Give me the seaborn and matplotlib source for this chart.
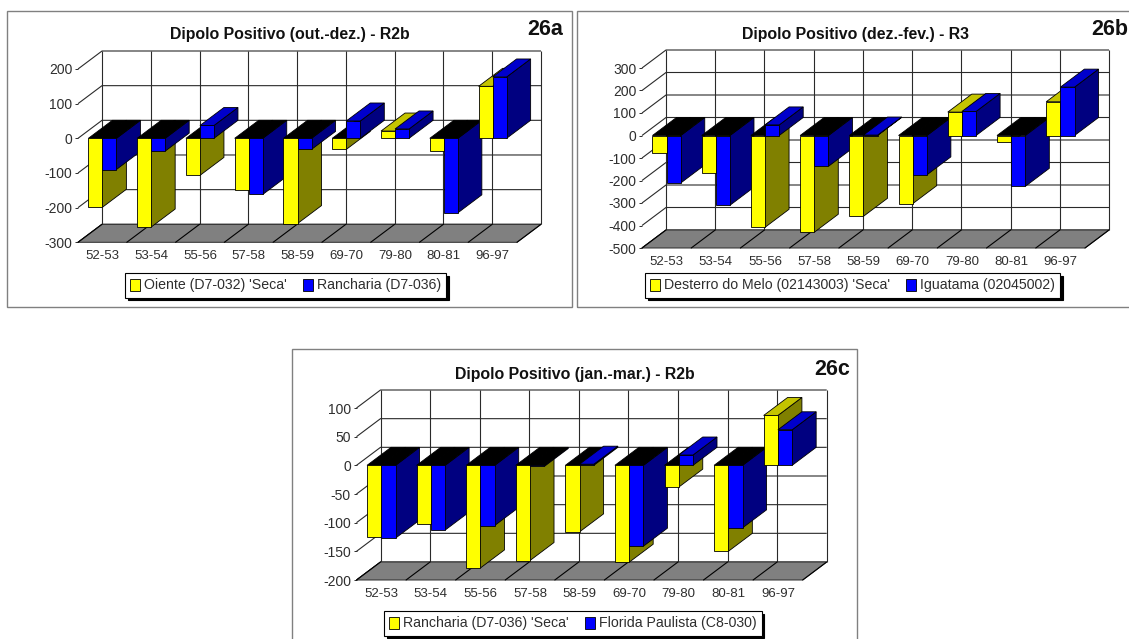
import matplotlib
matplotlib.use("Agg")
import matplotlib.pyplot as plt
from matplotlib.patches import Polygon, Rectangle
import pandas as pd
import seaborn as sns

# Rainfall anomalies per wet season, one pair of stations in each panel
periods = ["52-53", "53-54", "55-56", "57-58", "58-59", "69-70", "79-80", "80-81", "96-97"]

oiente = [-199, -256, -107, -148, -246, -32, 21, -37, 150]
rancharia_a = [-90, -37, 37, -162, -32, 50, 27, -215, 177]

desterro = [-78, -167, -408, -430, -359, -303, 104, -30, 150]
iguatama = [-211, -310, 47, -137, 2, -175, 107, -226, 215]

rancharia_c = [-125, -103, -179, -166, -116, -169, -38, -150, 87]
florida = [-127, -113, -105, -2, 2, -141, 18, -109, 62]

W, H = 1129, 639
DEPTH_X, DEPTH_Y = 24, 18

FRONT = {"#FFFF00": "#C4C400", "#0000FF": "#0000CC"}
SIDE = {"#FFFF00": "#808000", "#0000FF": "#000080"}
COLORS = ["#FFFF00", "#0000FF"]
LINE = "#2a2a2a"
TEXT = "#2e2e2e"

sns.set_theme(style="white")
plt.rcParams["font.family"] = ["Liberation Sans", "DejaVu Sans"]
plt.rcParams["axes.unicode_minus"] = False

fig = plt.figure(figsize=(W / 100, H / 100), dpi=100, facecolor="white")


def fx(px):
    return px / W


def fy(py):
    return 1 - py / H


def panel(frame, plane, ylim, yticks, title, title_xy, tag, tag_xy, legend_at, names, first, second):
    fig.add_artist(Rectangle((fx(frame[0]), fy(frame[3])), (frame[2] - frame[0]) / W,
                             (frame[3] - frame[1]) / H, transform=fig.transFigure,
                             fill=False, edgecolor="#808080", linewidth=1.0))
    left, top, right, bottom = plane
    ax = fig.add_axes([fx(left), fy(bottom), (right - left) / W, (bottom - top) / H])

    table = pd.DataFrame({
        "period": periods * 2,
        "value": list(first) + list(second),
        "station": [names[0]] * len(periods) + [names[1]] * len(periods),
    })
    sns.barplot(data=table, x="period", y="value", hue="station", hue_order=names,
                palette=COLORS, saturation=1, width=0.575, ax=ax,
                edgecolor="black", linewidth=0.6, errorbar=None)

    x0, x1 = -0.5, len(periods) - 0.5
    ax.set_xlim(x0, x1)
    ax.set_ylim(*ylim)
    ax.set_yticks(yticks)
    ax.set_xlabel("")
    ax.set_ylabel("")
    ax.patch.set_visible(False)
    for spine in ax.spines.values():
        spine.set_visible(False)
    ax.tick_params(axis="x", length=0, pad=5.5, labelsize=9.5, labelcolor=TEXT)
    ax.tick_params(axis="y", length=2.5, width=0.7, color=LINE, left=True, pad=1.5,
                   labelsize=10, labelcolor=TEXT)

    dx = DEPTH_X * (x1 - x0) / (right - left)
    dy = DEPTH_Y * (ylim[1] - ylim[0]) / (bottom - top)

    # Floor, back wall and left wall of the 3D box
    ax.add_patch(Polygon([(x0, ylim[0]), (x1, ylim[0]), (x1 + dx, ylim[0] + dy), (x0 + dx, ylim[0] + dy)],
                         closed=True, facecolor="#808080", edgecolor=LINE, linewidth=0.7,
                         clip_on=False, zorder=1))
    wall = dict(color=LINE, linewidth=0.8, clip_on=False, zorder=0.5, solid_capstyle="butt")
    for t in yticks:
        ax.plot([x0, x0 + dx, x1 + dx], [t, t + dy, t + dy], **wall)
    for k in range(len(periods) + 1):
        xk = x0 + k
        ax.plot([xk + dx, xk + dx], [ylim[0] + dy, ylim[1] + dy], **wall)
        ax.plot([xk, xk + dx], [ylim[0], ylim[0] + dy], color="black", linewidth=0.8,
                clip_on=False, zorder=1.5)

    # Extrude each bar from its own rectangle, painting later categories over earlier ones
    for s, container in enumerate(ax.containers):
        for c, bar in enumerate(container):
            bx0, bx1 = bar.get_x(), bar.get_x() + bar.get_width()
            value = bar.get_y() + bar.get_height()
            base = 10 + c * 10 + s * 3
            color = COLORS[s]
            outline = dict(edgecolor="black", linewidth=0.6, clip_on=False, closed=True)
            ax.add_patch(Polygon([(bx1, 0), (bx1, value), (bx1 + dx, value + dy), (bx1 + dx, dy)],
                                 facecolor=SIDE[color], zorder=base, **outline))
            cap = max(value, 0)
            ax.add_patch(Polygon([(bx0, cap), (bx1, cap), (bx1 + dx, cap + dy), (bx0 + dx, cap + dy)],
                                 facecolor=FRONT[color] if value > 0 else "black", zorder=base + 1, **outline))
            bar.set_zorder(base + 2)
            bar.set_clip_on(False)

    fig.text(fx(title_xy[0]), fy(title_xy[1]), title, ha="center", va="center",
             fontsize=11.4, fontweight="bold", color="#111111")
    fig.text(fx(tag_xy[0]), fy(tag_xy[1]), tag, ha="center", va="baseline",
             fontsize=15.5, fontweight="bold", color="#111111")

    sns.move_legend(ax, "center left", bbox_to_anchor=(fx(legend_at[0]), fy(legend_at[1])),
                    bbox_transform=fig.transFigure, ncol=2, title=None, frameon=True,
                    fancybox=False, edgecolor="black", framealpha=1, fontsize=10.15,
                    labelcolor=TEXT, handlelength=0.72, handleheight=0.95,
                    handletextpad=0.3, columnspacing=1.1, borderpad=0.36, borderaxespad=0,
                    shadow={"facecolor": "black", "edgecolor": "black", "alpha": 1})
    ax.get_legend().get_frame().set_linewidth(0.8)
    ax.get_legend().set_zorder(200)


panel((7, 11, 572, 307), (78, 69, 517, 242.3), (-300, 200), list(range(-300, 201, 100)),
      "Dipolo Positivo (out.-dez.) - R2b", (290, 35), "26a", (545.6, 35), (125, 285.5),
      ["Oiente (D7-032) 'Seca'", "Rancharia (D7-036)"], oiente, rancharia_a)

panel((577, 11, 1135, 307), (642, 68, 1085, 248), (-500, 300), list(range(-500, 301, 100)),
      "Dipolo Positivo (dez.-fev.) - R3", (855, 35), "26b", (1110, 35), (645, 285.5),
      ["Desterro do Melo (02143003) 'Seca'", "Iguatama (02045002)"], desterro, iguatama)

panel((292, 349, 857, 645), (356.5, 408, 802.7, 580), (-200, 100), list(range(-200, 101, 50)),
      "Dipolo Positivo (jan.-mar.) - R2b", (575, 374), "26c", (832, 375), (384, 623.5),
      ["Rancharia (D7-036) 'Seca'", "Florida Paulista (C8-030)"], rancharia_c, florida)

fig.savefig("out.png", dpi=100, facecolor="white")
